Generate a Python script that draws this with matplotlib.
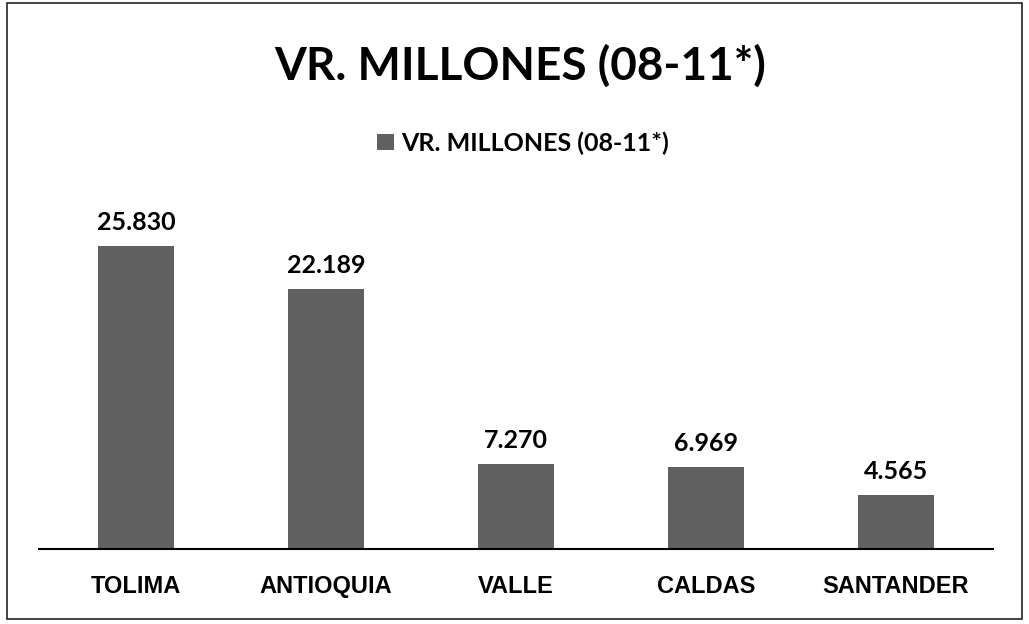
import matplotlib.pyplot as plt
from matplotlib.patches import Rectangle

plt.rcParams['font.family'] = ['Lato', 'DejaVu Sans']

# datos
departamentos = ['TOLIMA', 'ANTIOQUIA', 'VALLE', 'CALDAS', 'SANTANDER']
valores = [25830, 22189, 7270, 6969, 4565]
etiquetas = ['25.830', '22.189', '7.270', '6.969', '4.565']
serie = 'VR. MILLONES (08-11*)'

W, H = 1029, 624
fig = plt.figure(figsize=(W / 100, H / 100), dpi=100)
ax = fig.add_axes([41 / W, 1 - 549 / H, 950 / W, 352 / H])

color_barra = '#606060'
barras = ax.bar(range(len(valores)), valores, width=0.4, color=color_barra, label=serie)

for b, txt in zip(barras, etiquetas):
    ax.annotate(txt, (b.get_x() + b.get_width() / 2, b.get_height()),
                xytext=(0, 11.5), textcoords='offset points',
                ha='center', va='baseline', fontsize=18, fontweight='bold')

ax.set_xlim(-0.5, len(valores) - 0.5)
ax.set_ylim(0, 30000)
ax.set_yticks([])
ax.set_xticks(range(len(valores)))
ax.set_xticklabels(departamentos, fontsize=17, fontweight='bold',
                   family=['Liberation Sans', 'DejaVu Sans'])
ax.tick_params(axis='x', length=0, pad=19)
for s in ['top', 'right', 'left']:
    ax.spines[s].set_visible(False)
ax.spines['bottom'].set_linewidth(1.5)
ax.spines['bottom'].set_bounds(-0.51, 4.51)

# titulo y leyenda
fig.text(520 / W, 1 - 80 / H, serie, ha='center', va='baseline',
         fontsize=33, fontweight='bold')
fig.legend(handles=[barras], labels=[serie], loc='center',
           bbox_to_anchor=(523 / W, 1 - 143 / H), frameon=False,
           prop={'weight': 'bold', 'size': 18}, handlelength=0.65,
           handleheight=0.65, handletextpad=0.3)

# marco
fig.patches.append(Rectangle((7 / W, 1 - 619 / H), 1015 / W, 616 / H,
                             transform=fig.transFigure, fill=False,
                             edgecolor='#222222', linewidth=1.2))

plt.savefig('out.png', dpi=100)
